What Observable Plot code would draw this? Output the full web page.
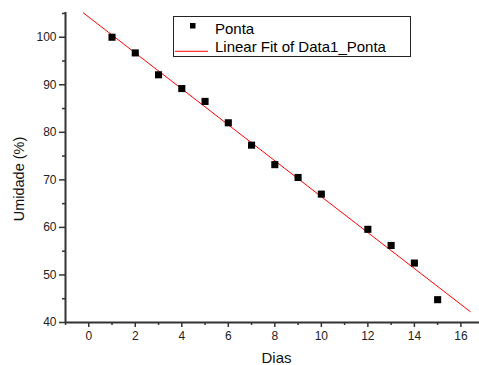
<!DOCTYPE html>
<html>
<head>
<meta charset="utf-8">
<script src="https://cdn.jsdelivr.net/npm/d3@7"></script>
<script src="https://cdn.jsdelivr.net/npm/@observablehq/plot@0.6"></script>
<style>
  html, body { margin: 0; padding: 0; background: #fff; }
  #wrap { position: relative; width: 479px; height: 365px; font-family: "Liberation Sans", Arial, sans-serif; }
  #legend { position: absolute; left: 173px; top: 16px; width: 238px; height: 41px; border: 1px solid #222; background: #fff; box-sizing: border-box; font-size: 15px; color: #000; }
  .row { position: absolute; left: 0; height: 18px; line-height: 18px; white-space: nowrap; width: 100%; }
  .sym { position: absolute; left: 0; top: 0; width: 40px; height: 18px; }
  .lab { position: absolute; left: 41px; top: 0; }
</style>
</head>
<body>
<div id="wrap"></div>
<script>
// Data
const days = [1, 2, 3, 4, 5, 6, 7, 8, 9, 10, 12, 13, 14, 15];
const umidade = [100.0, 96.7, 92.1, 89.2, 86.5, 82.0, 77.3, 73.2, 70.5, 67.0, 59.6, 56.2, 52.5, 44.8];
const fitExtent = [-0.23, 16.4];
const xTicks = [0, 2, 4, 6, 8, 10, 12, 14, 16];
const xMinor = [-1, 1, 3, 5, 7, 9, 11, 13, 15];
const yTicks = [40, 50, 60, 70, 80, 90, 100];
const yMinor = [45, 55, 65, 75, 85, 95, 105];
const xLabel = "Dias";
const yLabel = "Umidade (%)";
const seriesName = "Ponta";
const fitName = "Linear Fit of Data1_Ponta";

const points = days.map((d, i) => ({x: d, y: umidade[i]}));
// least squares fit
const mx = d3.mean(days), my = d3.mean(umidade);
const slope = d3.sum(days, (d, i) => (d - mx) * (umidade[i] - my)) / d3.sum(days, d => (d - mx) ** 2);
const intercept = my - slope * mx;
const fitLine = fitExtent.map(x => ({x, y: intercept + slope * x}));

const axisColor = "#333";
const chart = Plot.plot({
  width: 479,
  height: 365,
  marginLeft: 65,
  marginRight: 0,
  marginTop: 12,
  marginBottom: 43,
  style: {fontFamily: "'Liberation Sans', Arial, sans-serif", fontSize: "12px", color: "#222", background: "#fff"},
  x: {domain: [-1, 16.8]},
  y: {domain: [40, 105.2]},
  marks: [
    Plot.axisX({ticks: xMinor, tickSize: 3, tickFormat: () => "", stroke: axisColor, strokeWidth: 1.5, label: null}),
    Plot.axisX({ticks: xTicks, tickSize: 5, tickPadding: 4, stroke: axisColor, strokeWidth: 1.5, fill: "#222", fontSize: 12, label: null}),
    Plot.axisY({ticks: yMinor, tickSize: 3, tickFormat: () => "", stroke: axisColor, strokeWidth: 1.5, label: null}),
    Plot.axisY({ticks: yTicks, tickSize: 6, tickPadding: 3, stroke: axisColor, strokeWidth: 1.5, fill: "#222", fontSize: 12, label: null}),
    Plot.ruleX([-1], {stroke: axisColor, strokeWidth: 2}),
    Plot.ruleY([40], {stroke: axisColor, strokeWidth: 2}),
    Plot.text([xLabel], {frameAnchor: "bottom", text: d => d, textAnchor: "middle", lineAnchor: "bottom", dx: 4, dy: 40.5, fontSize: 15, fill: "#111"}),
    Plot.text([yLabel], {frameAnchor: "left", text: d => d, textAnchor: "middle", lineAnchor: "middle", rotate: -90, dx: -46, dy: 11.5, fontSize: 14.5, fill: "#111"}),
    Plot.line(fitLine, {x: "x", y: "y", stroke: "#ff0000", strokeWidth: 1}),
    Plot.dot(points, {x: "x", y: "y", symbol: "square", r: 4, fill: "#000", stroke: "none"})
  ]
});

const wrap = document.getElementById("wrap");
wrap.appendChild(chart);

const legend = document.createElement("div");
legend.id = "legend";
legend.innerHTML = `
  <div class="row" style="top:3px">
    <svg class="sym" width="40" height="18"><rect x="16" y="3" width="5.5" height="5.5" fill="#000"/></svg>
    <span class="lab"></span>
  </div>
  <div class="row" style="top:20.7px">
    <svg class="sym" width="40" height="18"><line x1="1" x2="34" y1="13.3" y2="13.3" stroke="#ff0000" stroke-width="1"/></svg>
    <span class="lab"></span>
  </div>`;
const labs = legend.querySelectorAll(".lab");
labs[0].textContent = seriesName;
labs[1].textContent = fitName;
wrap.appendChild(legend);
</script>
</body>
</html>
